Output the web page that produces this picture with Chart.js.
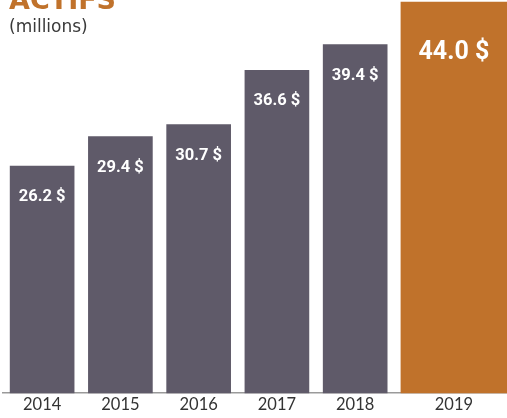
<!DOCTYPE html>
<html>
<head>
<meta charset="utf-8">
<script src="https://cdn.jsdelivr.net/npm/chart.js@4.4.0/dist/chart.umd.min.js"></script>
<style>
  html, body { margin: 0; padding: 0; background: #ffffff; }
  #wrap { position: relative; width: 507px; height: 418px; overflow: hidden; }
  #chart { position: absolute; left: 0; top: 0; }
  .title { position: absolute; left: 9px; top: -16px; font-family: "DejaVu Sans", sans-serif; font-weight: bold; font-size: 27px; color: #c0722b; white-space: nowrap; line-height: 32px; }
  .sub { position: absolute; left: 9px; top: 15px; font-family: "DejaVu Sans", sans-serif; font-size: 17px; color: #3a3a3a; white-space: nowrap; line-height: 22px; }
</style>
</head>
<body>
<div id="wrap">
  <canvas id="chart" width="507" height="418"></canvas>
  <div class="title">ACTIFS</div>
  <div class="sub">(millions)</div>
</div>
<script>
// ---- data ----
const years = ['2014', '2015', '2016', '2017', '2018', '2019'];
const assets = [26.2, 29.4, 30.7, 36.6, 39.4, 44.0];
const highlightYear = '2019';

// ---- layout / style ----
const GRAY = '#5f5a69';
const ORANGE = '#c0722b';
const hiIdx = years.indexOf(highlightYear);
const HIGHLIGHT_SHIFT = 0.262; // highlighted bar sits a little further right
const xPos = years.map((y, i) => i + (i === hiIdx ? HIGHLIGHT_SHIFT : 0));

const grayPoints = [];
const hiPoints = [];
years.forEach((y, i) => {
  const p = { x: xPos[i], y: assets[i] };
  if (i === hiIdx) hiPoints.push(p); else grayPoints.push(p);
});

const valueLabels = {
  id: 'valueLabels',
  afterDatasetsDraw(chart) {
    const ctx = chart.ctx;
    ctx.save();
    ctx.fillStyle = '#ffffff';
    ctx.textAlign = 'center';
    ctx.textBaseline = 'middle';
    chart.data.datasets.forEach((ds, di) => {
      const meta = chart.getDatasetMeta(di);
      const big = ds.highlight;
      ctx.font = big ? 'bold 25px Roboto, "DejaVu Sans", sans-serif' : 'bold 16.5px Roboto, "DejaVu Sans", sans-serif';
      meta.data.forEach((bar, j) => {
        const v = ds.data[j].y;
        ctx.fillText(v.toFixed(1) + ' $', bar.x, bar.y + (big ? 51 : 31));
      });
    });
    ctx.restore();
  }
};

new Chart(document.getElementById('chart'), {
  type: 'bar',
  data: {
    datasets: [
      { data: grayPoints, backgroundColor: GRAY, barThickness: 64, grouped: false, highlight: false },
      { data: hiPoints, backgroundColor: ORANGE, barThickness: 106, grouped: false, highlight: true }
    ]
  },
  options: {
    responsive: false,
    animation: false,
    devicePixelRatio: 1,
    layout: { padding: { left: 3, right: 0, top: 0, bottom: 1 } },
    plugins: { legend: { display: false }, tooltip: { enabled: false }, title: { display: false } },
    scales: {
      x: {
        type: 'linear',
        offset: false,
        min: -0.5,
        max: 5.94,
        grid: { display: false, drawTicks: false, offset: false },
        border: { display: true, color: '#9a9a9a', width: 1.5 },
        afterBuildTicks(scale) { scale.ticks = xPos.map(v => ({ value: v })); },
        ticks: {
          autoSkip: false,
          maxRotation: 0,
          padding: 2,
          color: '#333333',
          font: { family: 'Lato, "DejaVu Sans", sans-serif', size: 16.5, lineHeight: 1.2 },
          callback: (value, index) => years[index]
        }
      },
      y: {
        display: false,
        min: 1.56,
        max: 44.23,
        grid: { display: false }
      }
    }
  },
  plugins: [valueLabels]
});
</script>
</body>
</html>
